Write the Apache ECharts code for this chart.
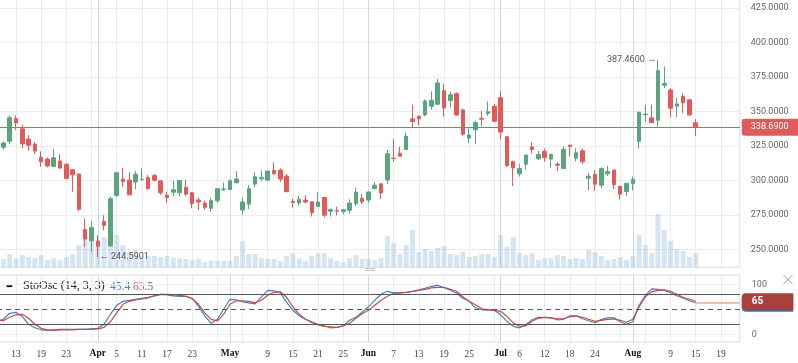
<!DOCTYPE html>
<html><head><meta charset="utf-8">
<script src="https://cdn.jsdelivr.net/npm/echarts@6/dist/echarts.min.js"></script>
<style>html,body{margin:0;padding:0;background:#fff;overflow:hidden}#c{width:798px;height:363px}</style>
</head><body><div id="c"></div>
<script>
// ---- categories (trading days 2018 + future slots) ----
const dates = [
'2018-03-08','2018-03-09','2018-03-12','2018-03-13','2018-03-14','2018-03-15','2018-03-16','2018-03-19','2018-03-20','2018-03-21','2018-03-22','2018-03-23','2018-03-26','2018-03-27','2018-03-28','2018-03-29',
'2018-04-02','2018-04-03','2018-04-04','2018-04-05','2018-04-06','2018-04-09','2018-04-10','2018-04-11','2018-04-12','2018-04-13','2018-04-16','2018-04-17','2018-04-18','2018-04-19','2018-04-20','2018-04-23','2018-04-24','2018-04-25','2018-04-26','2018-04-27','2018-04-30',
'2018-05-01','2018-05-02','2018-05-03','2018-05-04','2018-05-07','2018-05-08','2018-05-09','2018-05-10','2018-05-11','2018-05-14','2018-05-15','2018-05-16','2018-05-17','2018-05-18','2018-05-21','2018-05-22','2018-05-23','2018-05-24','2018-05-25','2018-05-29','2018-05-30','2018-05-31',
'2018-06-01','2018-06-04','2018-06-05','2018-06-06','2018-06-07','2018-06-08','2018-06-11','2018-06-12','2018-06-13','2018-06-14','2018-06-15','2018-06-18','2018-06-19','2018-06-20','2018-06-21','2018-06-22','2018-06-25','2018-06-26','2018-06-27','2018-06-28','2018-06-29',
'2018-07-02','2018-07-03','2018-07-05','2018-07-06','2018-07-09','2018-07-10','2018-07-11','2018-07-12','2018-07-13','2018-07-16','2018-07-17','2018-07-18','2018-07-19','2018-07-20','2018-07-23','2018-07-24','2018-07-25','2018-07-26','2018-07-27','2018-07-30','2018-07-31',
'2018-08-01','2018-08-02','2018-08-03','2018-08-06','2018-08-07','2018-08-08','2018-08-09','2018-08-10','2018-08-13','2018-08-14','2018-08-15',
'2018-08-16','2018-08-17','2018-08-18','2018-08-19','2018-08-20','2018-08-21','2018-08-22'
];

// ---- OHLC ----
const opens = [332.9,324.1,328.6,344.9,337.5,330.1,326.5,316.8,315.6,310.3,
314.2,311.9,307.9,304.8,264.6,256.5,256.3,270.4,252.8,289.3,
301.0,300.4,299.0,300.7,302.3,303.7,299.9,289.4,291.6,291.3,
295.2,291.3,286.0,283.7,280.0,285.4,293.6,293.5,298.6,278.8,
283.0,297.5,301.3,300.4,307.5,307.7,303.3,285.0,283.8,285.9,
284.7,281.3,287.8,277.8,278.4,277.6,278.5,283.3,287.2,285.9,
294.3,297.7,300.5,316.2,319.9,322.5,344.7,346.7,347.6,353.8,
355.4,365.2,358.0,363.0,351.2,330.8,336.9,345.0,348.7,353.9,
360.1,331.8,313.8,305.0,311.9,324.4,315.8,321.2,315.6,312.0,
308.7,325.7,316.3,321.6,301.8,304.4,296.7,304.9,307.7,295.9,
292.2,298.0,328.4,347.8,345.5,343.8,369.1,365.6,354.0,361.1,
358.5,341.9];
const highs = [333.4,328.5,347.2,347.3,340.5,333.0,328.1,321.2,316.8,322.8,
319.2,312.6,308.4,305.0,272.5,271.0,260.3,275.0,288.4,306.3,
309.3,306.0,307.1,309.0,304.0,304.8,300.6,292.0,300.0,300.5,
300.4,291.6,288.0,285.5,287.5,294.5,298.7,300.8,306.9,288.0,
296.9,306.0,307.5,307.0,313.0,308.9,304.9,287.0,288.8,289.5,
284.7,291.5,288.0,279.9,281.1,279.6,286.5,295.0,290.4,292.0,
299.0,297.8,322.2,330.0,324.5,334.7,355.0,347.2,358.8,364.7,
373.7,370.0,364.5,363.9,352.2,338.0,343.3,350.6,357.5,355.5,
364.8,332.5,314.4,312.0,318.5,327.7,321.5,323.2,319.6,313.5,
324.7,325.7,323.5,323.2,305.5,307.7,309.6,310.7,307.8,296.0,
298.3,303.0,350.0,355.0,355.0,387.46,382.6,367.0,360.0,363.2,
359.2,344.5];
const lows = [326.3,322.4,326.5,336.8,323.5,321.6,319.2,310.0,309.6,309.8,
308.4,301.0,292.0,277.8,252.1,248.2,244.5901,264.0,252.0,288.2,
295.5,289.2,293.7,299.7,293.7,299.5,289.6,283.6,288.8,288.8,
289.0,280.0,278.7,279.0,277.5,283.8,292.5,293.2,297.8,275.2,
279.5,295.2,299.5,300.0,304.1,299.1,291.6,280.5,281.6,283.4,
274.0,281.3,273.4,274.0,274.9,275.6,276.2,281.6,282.9,283.8,
293.6,286.7,297.5,313.6,317.2,322.5,338.0,339.8,346.6,351.3,
354.5,346.3,353.0,347.0,332.5,327.5,326.7,339.6,347.0,342.4,
329.9,309.7,296.2,303.0,308.0,319.8,314.9,313.7,309.3,307.0,
308.5,317.6,314.0,312.2,292.9,292.5,294.5,303.6,293.9,286.3,
289.1,293.0,323.2,342.5,341.7,339.2,367.1,345.7,346.0,349.0,
347.1,332.2];
const closes = [329.1,327.2,345.5,341.8,326.6,325.6,321.4,313.6,310.6,316.5,
309.1,301.5,304.2,279.2,257.8,266.1,252.5,267.5,286.9,305.7,
299.3,289.7,304.7,300.9,294.1,300.3,291.2,287.7,293.4,300.1,
290.2,283.4,284.5,280.7,285.5,294.1,293.9,299.9,301.2,284.5,
294.1,302.8,302.2,306.9,305.0,301.1,292.0,284.2,286.5,284.5,
276.8,284.5,275.0,279.1,277.9,278.9,283.8,291.7,284.7,291.8,
296.7,291.1,319.5,316.1,317.7,332.1,342.8,344.8,357.7,358.2,
370.8,352.6,362.2,347.5,333.6,333.0,342.0,344.5,349.9,343.0,
335.1,310.9,309.2,308.9,318.5,322.5,319.0,316.7,318.9,311.2,
322.7,324.7,320.2,313.6,303.2,297.4,308.7,306.7,297.2,290.2,
298.1,300.8,349.5,348.2,342.0,379.6,370.3,352.5,355.5,356.4,
347.6,338.69];

// ---- volume (millions) ----
const volumes = [5.2,4.8,7.6,5.2,7.1,5.9,5.3,7.1,4.2,5.3,
4.0,5.9,7.6,12.8,19.5,16.8,13.8,17.4,18.5,18.5,
12.8,9.0,9.9,6.1,6.5,6.5,5.9,6.5,5.5,5.2,
4.8,4.2,4.8,3.0,3.6,3.6,3.6,3.6,6.5,15.1,
7.6,7.6,5.3,4.8,4.8,3.6,6.5,8.2,4.8,3.6,
6.5,8.2,8.2,5.3,3.6,3.0,5.3,7.1,4.8,4.8,
4.2,5.3,18.0,13.9,7.6,12.8,21.4,8.8,10.5,9.4,
11.1,12.2,7.6,7.1,8.8,5.9,6.5,7.6,7.6,5.9,
18.5,11.7,17.4,8.2,7.1,8.2,4.2,5.2,5.2,7.1,
6.5,4.8,5.3,4.8,9.9,8.8,6.5,4.2,4.8,5.9,
4.2,6.5,18.5,12.8,8.2,30.6,21.4,15.1,10.5,9.4,
5.9,8.2];

// ---- Stochastic oscillator ----
const stoK = [24,30,42,44,36,20,13,9,8,9,
10,10,10,10,10,11,12,20,40,58,
66,68,70,72,74,77,80,79,77,76,
76,72,56,37,22,30,50,70,69,65,
63,61,75,88,87,83,64,48,37,30,
25,20,17,13,14,17,28,34,44,55,
68,80,86,83,83,84,86,89,92,96,
98,93,88,82,72,66,53,49,49,48,
39,26,16,13,19,29,34,34,33,29,
30,37,37,31,27,23,30,33,33,25,
20,25,58,78,91,90,88,83,77,72,
67,63];
const stoD = [30,27,34,39,40,32,20,12,9,8,
9,9,9,10,10,10,11,14,25,43,
60,66,69,71,73,77,80,80,79,78,
76,71,60,43,30,27,40,60,67,67,
66,63,68,78,84,85,74,55,40,30,
23,19,16,15,14,17,22,32,41,48,
58,68,76,82,83,84,86,88,90,93,
94,94,90,86,75,66,59,51,49,48,
46,36,23,16,17,26,32,34,33,31,
31,35,37,34,30,26,28,30,31,28,
24,30,55,75,85,88,89,86,80,74,
70,66];
const stoLevels = [80, 50, 20];
const stoLastK = 62, stoLastD = 65;
const legendK = '45.4', legendD = '63.5';

// ---- tick labels ----
const tickDates = ['2018-03-13','2018-03-19','2018-03-23','2018-04-02','2018-04-05','2018-04-11','2018-04-17','2018-04-23',
'2018-05-01','2018-05-09','2018-05-15','2018-05-21','2018-05-25','2018-06-01','2018-06-07','2018-06-13','2018-06-19','2018-06-25',
'2018-07-02','2018-07-06','2018-07-12','2018-07-18','2018-07-24','2018-08-01','2018-08-09','2018-08-15','2018-08-19'];
const tickText = ['13','19','23','Apr','5','11','17','23','May','9','15','21','25','Jun','7','13','19','25','Jul','6','12','18','24','Aug','9','15','19'];
const monthDates = ['2018-04-02','2018-05-01','2018-06-01','2018-07-02','2018-08-01'];
const priceTicks = {min: 225, max: 431.25, interval: 25};

// ---- build ----
const tickMap = {}; tickDates.forEach((d, i) => tickMap[d] = tickText[i]);
const monthSet = new Set(monthDates);
const regular = (i) => i >= 3 && (i - 3) % 4 === 0;
const candleData = opens.map((o, i) => [o, closes[i], lows[i], highs[i]]);
const lastIdx = closes.length - 1;

const GL = -2.9, GW = 742.7;
const gridBase = {left: GL, width: GW, outerBoundsMode: 'none', containLabel: false};
const LIGHT = '#e9ecf0', MONTH = '#d3d6da';
const PRICE_RED = '#dc5a5a';
function xCat(gridIndex, extra) {
  return Object.assign({type: 'category', gridIndex, data: dates, boundaryGap: false,
    axisLine: {show: false}, axisTick: {show: false}, axisLabel: {show: false}, splitLine: {show: false}}, extra || {});
}
const regSplit = {show: true, interval: (i) => regular(i), lineStyle: {color: LIGHT, width: 1}};
const monSplit = {show: true, interval: (i, v) => monthSet.has(v), lineStyle: {color: MONTH, width: 1}};

const chart = echarts.init(document.getElementById('c'), null, {renderer: 'canvas'});
chart.setOption({
  animation: false,
  backgroundColor: '#fff',
  grid: [
    Object.assign({top: -0.6, height: 284.8}, gridBase),
    Object.assign({top: -1, height: 268.3, show: true, borderColor: '#dcdfe3', borderWidth: 1, backgroundColor: 'transparent'}, gridBase),
    Object.assign({top: 275, height: 67, show: true, borderColor: '#d8dce0', borderWidth: 1, backgroundColor: 'transparent'}, gridBase),
    Object.assign({top: 284.3, height: 50}, gridBase)
  ],
  xAxis: [
    xCat(0),
    xCat(1, {splitLine: regSplit}),
    xCat(1, {splitLine: monSplit}),
    xCat(2, {splitLine: regSplit, axisLabel: {show: true,
      interval: (i, v) => tickMap[v] !== undefined,
      formatter: (v) => monthSet.has(v) ? '{m|' + tickMap[v] + '}' : (tickMap[v] || ''),
      color: '#444', fontSize: 9.5, fontFamily: '"Liberation Serif", serif', margin: 7,
      rich: {m: {fontWeight: 'bold', color: '#111'}}}}),
    xCat(2, {splitLine: monSplit}),
    xCat(3)
  ],
  yAxis: [
    {gridIndex: 0, type: 'value', position: 'right', min: priceTicks.min, max: priceTicks.max, interval: priceTicks.interval,
      axisLine: {show: false}, axisTick: {show: false},
      axisLabel: {showMinLabel: false, showMaxLabel: false, formatter: (v) => v.toFixed(4), color: '#666', fontSize: 9, fontFamily: 'Roboto', margin: 11},
      splitLine: {show: true, showMinLine: false, showMaxLine: false, lineStyle: {color: LIGHT, width: 1}}},
    {gridIndex: 1, type: 'value', min: 0, max: 154, show: false},
    {gridIndex: 2, type: 'value', min: 0, max: 1, show: false},
    {gridIndex: 3, type: 'value', position: 'right', min: 0, max: 100, interval: 100,
      axisLine: {show: false}, axisTick: {show: false},
      axisLabel: {color: '#666', fontSize: 9, fontFamily: 'Roboto', margin: 12},
      splitLine: {show: true, lineStyle: {color: '#eef0f3'}}}
  ],
  series: [
    {type: 'candlestick', xAxisIndex: 0, yAxisIndex: 0, data: candleData, barWidth: 4, silent: true,
      itemStyle: {color: '#5aa47e', color0: '#e25b5b', borderColor: '#5aa47e', borderColor0: '#e25b5b', borderWidth: 1},
      markLine: {silent: true, symbol: ['none', 'none'], animation: false,
        lineStyle: {color: PRICE_RED, width: 1, type: 'solid'},
        label: {show: true, position: 'end', distance: 2, formatter: closes[lastIdx].toFixed(4), color: '#fff',
          backgroundColor: '#e05b5b', padding: [4, 20, 3, 9], borderRadius: [3, 0, 0, 3], fontSize: 9, lineHeight: 10, fontFamily: 'Roboto'},
        data: [{yAxis: closes[lastIdx], lineStyle: {color: PRICE_RED, width: 1, type: 'solid', opacity: 1}}]},
      markPoint: {silent: true, symbol: 'circle', symbolSize: 0, itemStyle: {color: 'rgba(0,0,0,0)'},
        label: {show: true, color: '#555', fontSize: 9, fontFamily: 'Roboto'},
        data: [
          {type: 'max', valueDim: 'highest', label: {position: 'left', distance: 2, formatter: (p) => p.value.toFixed(4) + ' \u2192'}},
          {type: 'min', valueDim: 'lowest', label: {position: 'right', distance: 2, formatter: (p) => '\u2190 ' + p.value.toFixed(4)}}
        ]}
    },
    {type: 'bar', xAxisIndex: 1, yAxisIndex: 1, data: volumes, barWidth: 5, silent: true,
      itemStyle: {color: 'rgba(160,192,226,0.42)'}},
    {type: 'line', xAxisIndex: 5, yAxisIndex: 3, data: stoK, showSymbol: false, silent: true,
      lineStyle: {color: '#4a7fc0', width: 1.2},
      markLine: {silent: true, symbol: ['none', 'none'], animation: false,
        lineStyle: {color: 'rgba(74,127,192,0.35)', width: 1, type: 'solid'},
        label: {show: true, position: 'end', distance: 2, formatter: String(stoLastD), color: '#fff', backgroundColor: '#3d72b8',
          padding: [4, 30, 3, 10], borderRadius: [4, 0, 0, 4], fontSize: 10, lineHeight: 10, fontWeight: 'bold', fontFamily: 'Roboto'},
        data: [[{coord: [dates[lastIdx], stoLastK]}, {coord: [dates[dates.length - 1], stoLastK]}]]}},
    {type: 'line', xAxisIndex: 5, yAxisIndex: 3, data: stoD, showSymbol: false, silent: true,
      lineStyle: {color: '#c0504d', width: 1.2},
      markLine: {silent: true, symbol: ['none', 'none'], animation: false,
        data: [
          {yAxis: stoLevels[0], lineStyle: {color: '#555', width: 1, type: 'solid'}, label: {show: false}},
          {yAxis: stoLevels[1], lineStyle: {color: '#555', width: 1, type: [5, 4]}, label: {show: false}},
          {yAxis: stoLevels[2], lineStyle: {color: '#555', width: 1, type: 'solid'}, label: {show: false}},
          [{coord: [dates[lastIdx], stoLastD], lineStyle: {color: 'rgba(192,80,77,0.4)', width: 1, type: 'solid'},
            label: {show: true, position: 'end', distance: 2, formatter: String(stoLastD), color: '#fff', backgroundColor: '#a8413e',
              padding: [4, 30, 3, 10], borderRadius: [4, 0, 0, 4], fontSize: 10, lineHeight: 10, fontWeight: 'bold', fontFamily: 'Roboto'}},
           {coord: [dates[dates.length - 1], stoLastD]}]
        ]}}
  ],
  graphic: [
    {type: 'rect', silent: true, shape: {x: 6.5, y: 285.3, width: 5.8, height: 1.8}, style: {fill: '#111'}},
    {type: 'text', silent: true, x: 23, y: 280, style: {text: 'StoOsc (14, 3, 3)', font: '12px "Liberation Serif"', fill: '#222'}},
    {type: 'text', silent: true, x: 110, y: 280.5, style: {text: legendK, font: '11.5px "Liberation Serif"', fill: '#4a7fc0'}},
    {type: 'text', silent: true, x: 133, y: 280.5, style: {text: legendD, font: '11.5px "Liberation Serif"', fill: '#c0504d'}},
    {type: 'line', silent: true, shape: {x1: 783.5, y1: 275, x2: 792.5, y2: 284}, style: {stroke: '#999', lineWidth: 1}},
    {type: 'line', silent: true, shape: {x1: 792.5, y1: 275, x2: 783.5, y2: 284}, style: {stroke: '#999', lineWidth: 1}},
    {type: 'line', silent: true, shape: {x1: 365, y1: 268.5, x2: 375, y2: 268.5}, style: {stroke: '#c4c4c4', lineWidth: 1}},
    {type: 'line', silent: true, shape: {x1: 365, y1: 270.5, x2: 375, y2: 270.5}, style: {stroke: '#c4c4c4', lineWidth: 1}}
  ]
});
</script>
</body></html>
